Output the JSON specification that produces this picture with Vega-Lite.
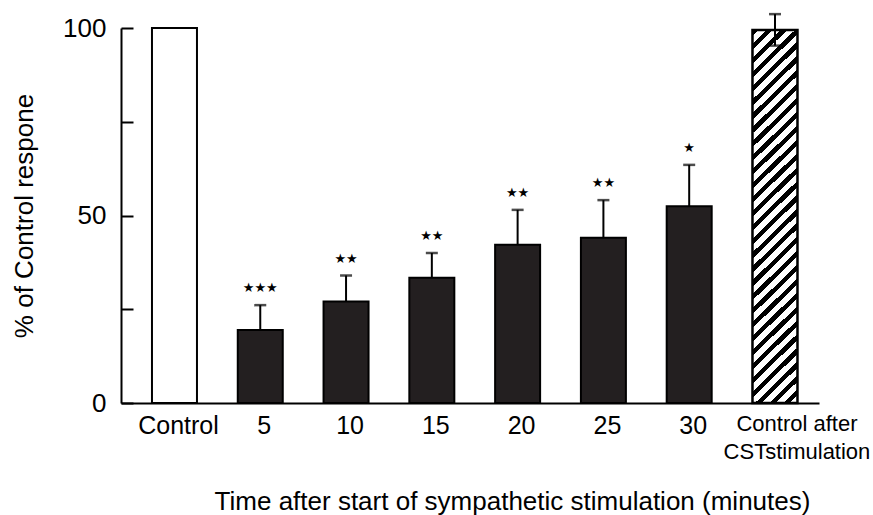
{
  "$schema": "https://vega.github.io/schema/vega-lite/v6.json",
  "autosize": {"type": "none"},
  "padding": {"left": 121, "top": 28, "right": 54, "bottom": 112},
  "width": 698,
  "height": 375,
  "background": "white",
  "config": {
    "view": {"stroke": null},
    "font": "Liberation Sans",
    "axis": {
      "domainColor": "black",
      "domainWidth": 2,
      "tickColor": "black",
      "tickWidth": 2,
      "labelColor": "black",
      "titleColor": "black",
      "labelFontWeight": "normal",
      "titleFontWeight": "normal",
      "grid": false
    }
  },
  "data": {
    "values": [
      {"t": "Control", "value": 100, "sem": null, "sig": ""},
      {"t": "5", "value": 19.5, "sem": 6.6, "sig": "★★★"},
      {"t": "10", "value": 27.1, "sem": 6.9, "sig": "★★"},
      {"t": "15", "value": 33.4, "sem": 6.6, "sig": "★★"},
      {"t": "20", "value": 42.2, "sem": 9.3, "sig": "★★"},
      {"t": "25", "value": 44.1, "sem": 10.0, "sig": "★★"},
      {"t": "30", "value": 52.5, "sem": 11.0, "sig": "★"},
      {"t": "CA", "value": 99.5, "sem": 4.2, "sig": ""}
    ]
  },
  "transform": [
    {"calculate": "datum.sem == null ? null : datum.value + datum.sem", "as": "hi"},
    {"calculate": "datum.sem == null ? null : datum.value - datum.sem", "as": "lo"}
  ],
  "encoding": {
    "x": {
      "field": "t",
      "type": "nominal",
      "sort": null,
      "scale": {"paddingInner": 0.4755, "paddingOuter": 0.306, "align": 0.59},
      "axis": {
        "title": "Time after start of sympathetic stimulation (minutes)",
        "titleFontSize": 26,
        "titleX": 391,
        "titleY": 106,
        "titleBaseline": "alphabetic",
        "titleAnchor": "middle",
        "ticks": false,
        "labelAngle": 0,
        "labelBaseline": "top",
        "labelPadding": 10,
        "labelLineHeight": 28,
        "labelExpr": "datum.value == 'CA' ? ['Control after', 'CSTstimulation'] : datum.label",
        "labelFontSize": {"condition": {"test": "datum.value == 'CA'", "value": 22}, "value": 25},
        "labelOffset": {"condition": {"test": "datum.value == 'CA'", "value": 22}, "value": 4}
      }
    }
  },
  "layer": [
    {
      "transform": [{"filter": "datum.t != 'CA'"}],
      "mark": {"type": "bar", "stroke": "black", "strokeWidth": 2, "clip": false},
      "encoding": {
        "y": {
          "field": "value",
          "type": "quantitative",
          "scale": {"domain": [0, 100], "nice": false, "zero": true},
          "axis": {
            "title": "% of Control respone",
            "titleFontSize": 26,
            "titlePadding": 25,
            "values": [0, 25, 50, 75, 100],
            "labelExpr": "datum.value % 50 == 0 ? datum.label : ''",
            "labelFontSize": 26,
            "tickSize": -12,
            "labelPadding": 27
          }
        },
        "fill": {
          "condition": {"test": "datum.t == 'Control'", "value": "white"},
          "value": "#231f20"
        }
      }
    },
    {
      "transform": [{"filter": "datum.t == 'CA'"}],
      "mark": {
        "type": "bar",
        "stroke": "black",
        "strokeWidth": 2.5,
        "clip": false,
        "fill": {
          "gradient": "linear",
          "x1": 0, "y1": 0, "x2": 0.130, "y2": 1.103,
          "stops": [
            {"offset": 0, "color": "black"}, {"offset": 0.015, "color": "black"}, {"offset": 0.015, "color": "white"}, {"offset": 0.0333, "color": "white"},
            {"offset": 0.0333, "color": "black"}, {"offset": 0.0483, "color": "black"}, {"offset": 0.0483, "color": "white"}, {"offset": 0.0667, "color": "white"},
            {"offset": 0.0667, "color": "black"}, {"offset": 0.0817, "color": "black"}, {"offset": 0.0817, "color": "white"}, {"offset": 0.1, "color": "white"},
            {"offset": 0.1, "color": "black"}, {"offset": 0.115, "color": "black"}, {"offset": 0.115, "color": "white"}, {"offset": 0.1333, "color": "white"},
            {"offset": 0.1333, "color": "black"}, {"offset": 0.1483, "color": "black"}, {"offset": 0.1483, "color": "white"}, {"offset": 0.1667, "color": "white"},
            {"offset": 0.1667, "color": "black"}, {"offset": 0.1817, "color": "black"}, {"offset": 0.1817, "color": "white"}, {"offset": 0.2, "color": "white"},
            {"offset": 0.2, "color": "black"}, {"offset": 0.215, "color": "black"}, {"offset": 0.215, "color": "white"}, {"offset": 0.2333, "color": "white"},
            {"offset": 0.2333, "color": "black"}, {"offset": 0.2483, "color": "black"}, {"offset": 0.2483, "color": "white"}, {"offset": 0.2667, "color": "white"},
            {"offset": 0.2667, "color": "black"}, {"offset": 0.2817, "color": "black"}, {"offset": 0.2817, "color": "white"}, {"offset": 0.3, "color": "white"},
            {"offset": 0.3, "color": "black"}, {"offset": 0.315, "color": "black"}, {"offset": 0.315, "color": "white"}, {"offset": 0.3333, "color": "white"},
            {"offset": 0.3333, "color": "black"}, {"offset": 0.3483, "color": "black"}, {"offset": 0.3483, "color": "white"}, {"offset": 0.3667, "color": "white"},
            {"offset": 0.3667, "color": "black"}, {"offset": 0.3817, "color": "black"}, {"offset": 0.3817, "color": "white"}, {"offset": 0.4, "color": "white"},
            {"offset": 0.4, "color": "black"}, {"offset": 0.415, "color": "black"}, {"offset": 0.415, "color": "white"}, {"offset": 0.4333, "color": "white"},
            {"offset": 0.4333, "color": "black"}, {"offset": 0.4483, "color": "black"}, {"offset": 0.4483, "color": "white"}, {"offset": 0.4667, "color": "white"},
            {"offset": 0.4667, "color": "black"}, {"offset": 0.4817, "color": "black"}, {"offset": 0.4817, "color": "white"}, {"offset": 0.5, "color": "white"},
            {"offset": 0.5, "color": "black"}, {"offset": 0.515, "color": "black"}, {"offset": 0.515, "color": "white"}, {"offset": 0.5333, "color": "white"},
            {"offset": 0.5333, "color": "black"}, {"offset": 0.5483, "color": "black"}, {"offset": 0.5483, "color": "white"}, {"offset": 0.5667, "color": "white"},
            {"offset": 0.5667, "color": "black"}, {"offset": 0.5817, "color": "black"}, {"offset": 0.5817, "color": "white"}, {"offset": 0.6, "color": "white"},
            {"offset": 0.6, "color": "black"}, {"offset": 0.615, "color": "black"}, {"offset": 0.615, "color": "white"}, {"offset": 0.6333, "color": "white"},
            {"offset": 0.6333, "color": "black"}, {"offset": 0.6483, "color": "black"}, {"offset": 0.6483, "color": "white"}, {"offset": 0.6667, "color": "white"},
            {"offset": 0.6667, "color": "black"}, {"offset": 0.6817, "color": "black"}, {"offset": 0.6817, "color": "white"}, {"offset": 0.7, "color": "white"},
            {"offset": 0.7, "color": "black"}, {"offset": 0.715, "color": "black"}, {"offset": 0.715, "color": "white"}, {"offset": 0.7333, "color": "white"},
            {"offset": 0.7333, "color": "black"}, {"offset": 0.7483, "color": "black"}, {"offset": 0.7483, "color": "white"}, {"offset": 0.7667, "color": "white"},
            {"offset": 0.7667, "color": "black"}, {"offset": 0.7817, "color": "black"}, {"offset": 0.7817, "color": "white"}, {"offset": 0.8, "color": "white"},
            {"offset": 0.8, "color": "black"}, {"offset": 0.815, "color": "black"}, {"offset": 0.815, "color": "white"}, {"offset": 0.8333, "color": "white"},
            {"offset": 0.8333, "color": "black"}, {"offset": 0.8483, "color": "black"}, {"offset": 0.8483, "color": "white"}, {"offset": 0.8667, "color": "white"},
            {"offset": 0.8667, "color": "black"}, {"offset": 0.8817, "color": "black"}, {"offset": 0.8817, "color": "white"}, {"offset": 0.9, "color": "white"},
            {"offset": 0.9, "color": "black"}, {"offset": 0.915, "color": "black"}, {"offset": 0.915, "color": "white"}, {"offset": 0.9333, "color": "white"},
            {"offset": 0.9333, "color": "black"}, {"offset": 0.9483, "color": "black"}, {"offset": 0.9483, "color": "white"}, {"offset": 0.9667, "color": "white"},
            {"offset": 0.9667, "color": "black"}, {"offset": 0.9817, "color": "black"}, {"offset": 0.9817, "color": "white"}, {"offset": 1, "color": "white"}
          ]
        }
      },
      "encoding": {
        "y": {"field": "value", "type": "quantitative"}
      }
    },
    {
      "transform": [{"filter": "datum.sem != null && datum.t != 'CA'"}],
      "mark": {"type": "rule", "color": "black", "strokeWidth": 2, "clip": false},
      "encoding": {
        "y": {"field": "value", "type": "quantitative"},
        "y2": {"field": "hi"}
      }
    },
    {
      "transform": [{"filter": "datum.t == 'CA'"}],
      "mark": {"type": "rule", "color": "black", "strokeWidth": 2, "clip": false},
      "encoding": {
        "y": {"field": "lo", "type": "quantitative"},
        "y2": {"field": "hi"}
      }
    },
    {
      "transform": [{"filter": "datum.sem != null"}],
      "mark": {"type": "tick", "orient": "horizontal", "color": "black", "size": 12, "thickness": 2.5, "clip": false},
      "encoding": {
        "y": {"field": "hi", "type": "quantitative"}
      }
    },
    {
      "transform": [{"filter": "datum.t == 'CA'"}],
      "mark": {"type": "tick", "orient": "horizontal", "color": "black", "size": 12, "thickness": 2.5, "clip": false},
      "encoding": {
        "y": {"field": "lo", "type": "quantitative"}
      }
    },
    {
      "transform": [{"filter": "datum.sig != ''"}],
      "mark": {"type": "text", "font": "DejaVu Sans", "fontSize": 13, "baseline": "middle", "dy": -17, "color": "black", "clip": false},
      "encoding": {
        "y": {"field": "hi", "type": "quantitative"},
        "text": {"field": "sig"}
      }
    }
  ]
}
